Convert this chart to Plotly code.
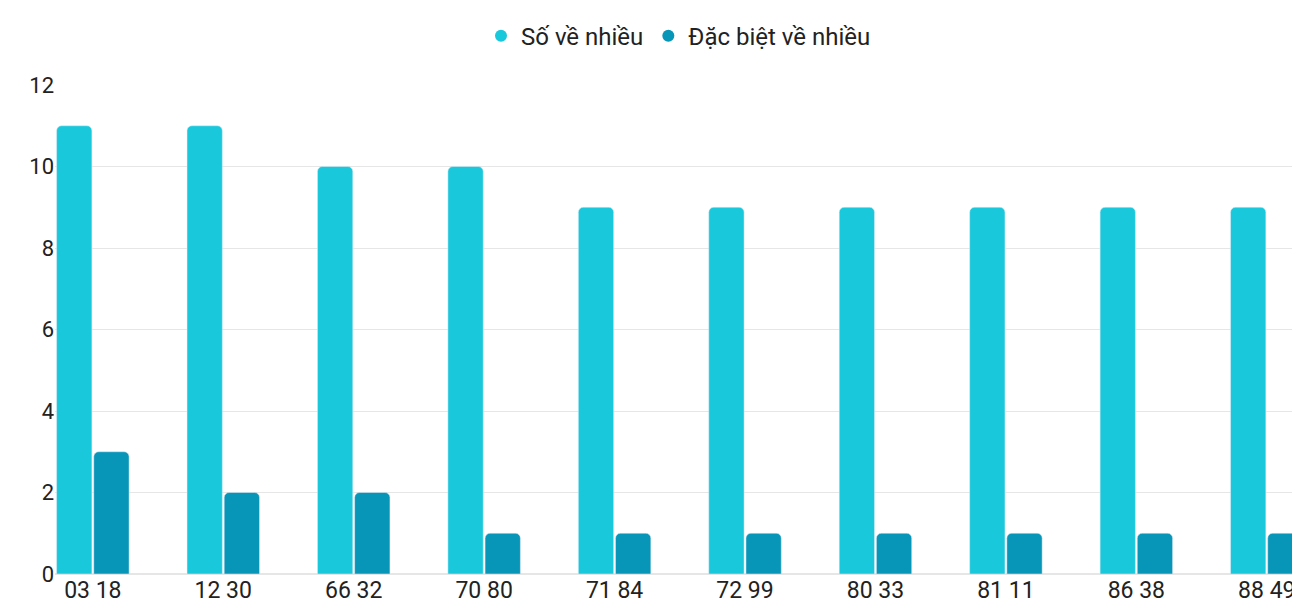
import plotly.graph_objects as go

categories = ["03 18", "12 30", "66 32", "70 80", "71 84", "72 99", "80 33", "81 11", "86 38", "88 49"]
so_ve_nhieu = [11, 11, 10, 10, 9, 9, 9, 9, 9, 9]
dac_biet = [3, 2, 2, 1, 1, 1, 1, 1, 1, 1]
names = ["Số về nhiều", "Đặc biệt về nhiều"]
colors = ["#1AC8DB", "#0795B8"]

fig = go.Figure()
for name, vals, c in zip(names, [so_ve_nhieu, dac_biet], colors):
    fig.add_trace(go.Bar(x=categories, y=vals, name=name, marker_color=c,
                         showlegend=False, hoverinfo="y"))
for name, c in zip(names, colors):
    fig.add_trace(go.Scatter(x=[None], y=[None], mode="markers", name=name,
                             marker=dict(color=c, size=30, symbol="circle")))

fig.update_layout(
    width=1300, height=600,
    margin=dict(l=47, r=6, t=77, b=34, autoexpand=False),
    plot_bgcolor="white", paper_bgcolor="white",
    font=dict(family="Roboto", size=22, color="#222"),
    barmode="group", bargap=0.43, bargroupgap=0.05, barcornerradius=5,
    legend=dict(orientation="h", x=0.5, xanchor="center", y=1.1, yanchor="middle",
                font=dict(size=24), itemsizing="constant"),
    xaxis=dict(range=[-0.29, 9.27], showgrid=False, ticks="", tickfont=dict(size=23)),
    yaxis=dict(range=[0, 12], dtick=2, gridcolor="#e6e6e6", zeroline=True,
               zerolinecolor="#e6e6e6", ticks="", tickfont=dict(size=22)),
)
fig.write_html("out.html")
